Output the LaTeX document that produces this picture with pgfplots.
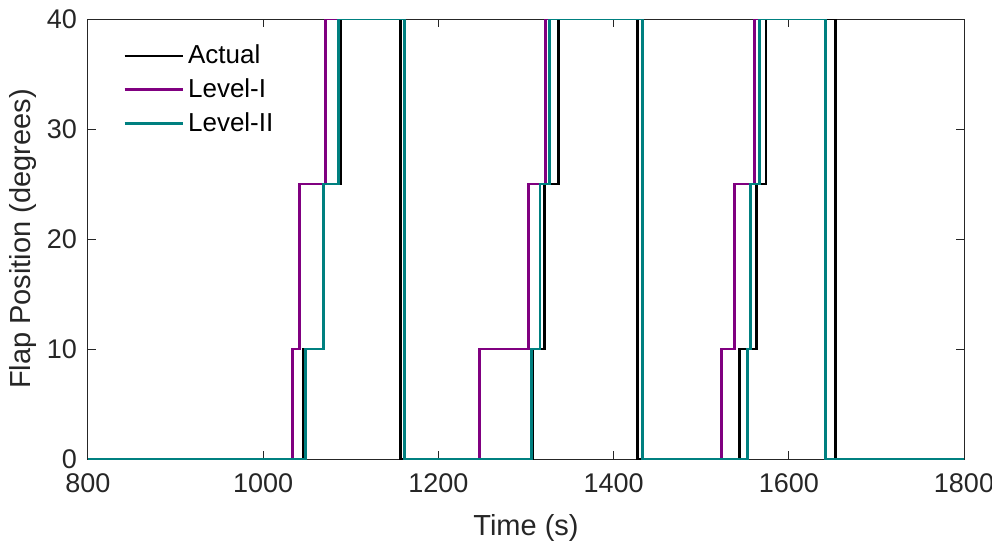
\documentclass[border=0pt]{standalone}
\usepackage{pgfplots}
\pgfplotsset{compat=1.18}
\usepackage{fontspec}
\setmainfont{Liberation Sans}
\definecolor{axgray}{RGB}{38,38,38}
\definecolor{lvlone}{RGB}{128,0,128}
\definecolor{lvltwo}{RGB}{0,128,128}
\begin{document}
\begin{tikzpicture}
\begin{axis}[
  scale only axis,
  width=438pt, height=220pt,
  xmin=800, xmax=1800, ymin=0, ymax=40,
  xtick={800,1000,1200,1400,1600,1800},
  ytick={0,10,20,30,40},
  tick align=inside,
  major tick length=4pt,
  axis line style={axgray, line width=0.5pt},
  tick style={axgray, line width=0.5pt},
  ticklabel style={font=\fontsize{13.5}{15}\selectfont, text=axgray},
  /pgf/number format/assume math mode=true,
  /pgf/number format/1000 sep={},
  xticklabel style={yshift=-4pt},
  yticklabel style={xshift=-2pt},
  xlabel={Time (s)},
  ylabel={Flap Position (degrees)},
  label style={font=\fontsize{14.5}{16}\selectfont, text=axgray},
  xlabel style={at={(axis description cs:0.5,0)}, anchor=north, yshift=-24pt},
  ylabel style={at={(axis description cs:0,0.5)}, anchor=south, yshift=22pt},
  legend style={draw=none, fill=none, at={(axis cs:833,38.4)}, anchor=north west,
    font=\fontsize{13}{15}\selectfont, text=black, row sep=2pt,
    /tikz/every even column/.append style={column sep=1pt}},
  legend cell align=left,
  legend image code/.code={\draw[#1] (0pt,0pt) -- (29pt,0pt);},
]
\addplot[const plot, black, line width=1.4pt] coordinates {
(800,0)(1046,10)(1069,25)(1088,40)(1157,0)(1307,10)(1321,25)(1337,40)(1427,0)(1544,10)(1563,25)(1574,40)(1653,0)(1800,0)};
\addlegendentry{Actual}
\addplot[const plot, lvlone, line width=1.4pt] coordinates {
(800,0)(1033,10)(1041,25)(1071,40)(1161,0)(1247,10)(1303,25)(1322,40)(1433,0)(1523,10)(1538,25)(1561,40)(1642,0)(1800,0)};
\addlegendentry{Level-I}
\addplot[const plot, lvltwo, line width=1.4pt] coordinates {
(800,0)(1048,10)(1069,25)(1086,40)(1161,0)(1306,10)(1316,25)(1327,40)(1433,0)(1553,10)(1556,25)(1567,40)(1642,0)(1800,0)};
\addlegendentry{Level-II}
\end{axis}
\pgfresetboundingbox
\useasboundingbox (-44pt,-41.5pt) rectangle (452pt,229.5pt);
\end{tikzpicture}
\end{document}
